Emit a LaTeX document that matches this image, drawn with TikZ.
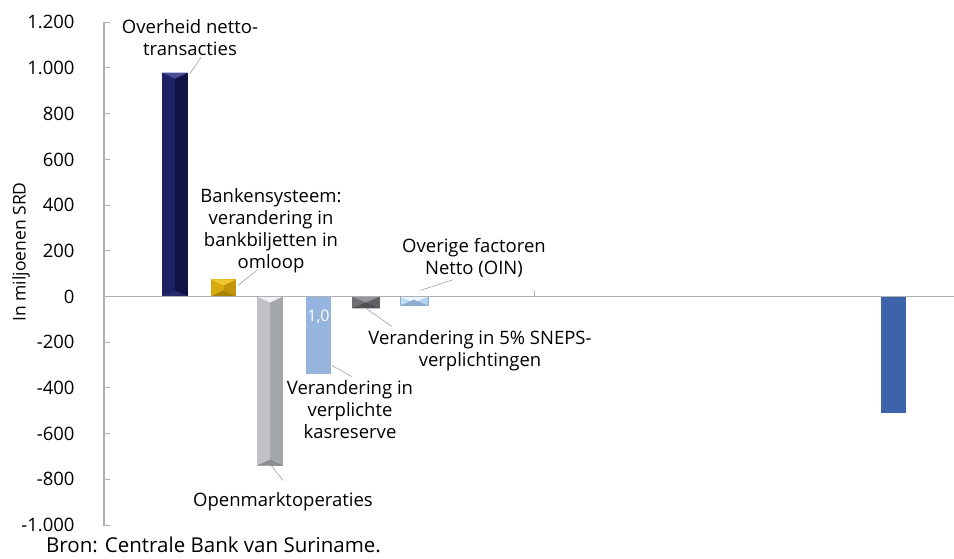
\documentclass[tikz,border=0pt]{standalone}
\usepackage{fontspec}
\setmainfont{Open Sans}
\usetikzlibrary{calc}

\definecolor{axisgray}{RGB}{172,175,180}
\definecolor{leadgray}{RGB}{160,160,160}
\definecolor{navyL}{RGB}{30,32,100}
\definecolor{navyR}{RGB}{16,18,70}
\definecolor{navyT}{RGB}{75,78,150}
\definecolor{navyB}{RGB}{40,42,105}
\definecolor{goldL}{RGB}{215,170,15}
\definecolor{goldR}{RGB}{195,150,10}
\definecolor{goldT}{RGB}{240,200,50}
\definecolor{goldB}{RGB}{170,130,5}
\definecolor{silvL}{RGB}{192,193,196}
\definecolor{silvR}{RGB}{165,166,170}
\definecolor{silvT}{RGB}{242,242,244}
\definecolor{silvB}{RGB}{140,141,145}
\definecolor{kasblue}{RGB}{149,181,222}
\definecolor{dgrayL}{RGB}{110,111,115}
\definecolor{dgrayR}{RGB}{96,97,101}
\definecolor{dgrayT}{RGB}{150,151,155}
\definecolor{dgrayB}{RGB}{80,81,85}
\definecolor{paleL}{RGB}{195,222,242}
\definecolor{paleR}{RGB}{180,210,235}
\definecolor{paleT}{RGB}{235,245,252}
\definecolor{paleB}{RGB}{140,172,205}
\definecolor{oinblue}{RGB}{61,100,170}

% #1 name, #2 left x, #3 right x, #4 value, #5..#8 left/right/top/bottom colour
\newcommand{\bevelbar}[8]{%
  \pgfmathsetmacro\yA{min(296.5,296.5-0.2285*#4)}
  \pgfmathsetmacro\yB{max(296.5,296.5-0.2285*#4)}
  \pgfmathsetmacro\xM{(#2+#3)/2}
  \fill[#5] (#2,\yA) rectangle (\xM,\yB);
  \fill[#6] (\xM,\yA) rectangle (#3,\yB);
  \fill[#7] (#2,\yA) -- (#3,\yA) -- (\xM,\yA+6) -- cycle;
  \fill[#8] (#2,\yB) -- (#3,\yB) -- (\xM,\yB-6) -- cycle;
  \coordinate (#1-tl) at (#2,\yA);
  \coordinate (#1-tr) at (#3,\yA);
  \coordinate (#1-bl) at (#2,\yB);
  \coordinate (#1-br) at (#3,\yB);
}

\begin{document}
\begin{tikzpicture}[x=1pt, y=-1pt,
  lbl/.style={align=center, font=\fontsize{18.5}{22}\selectfont, inner sep=0pt},
  leader/.style={draw=leadgray, line width=0.6pt}]
\useasboundingbox (0,0) rectangle (954,559);

\draw[axisgray, line width=1.2pt] (104,22) -- (104,525.5);
\foreach \v/\t in {1200/1.200, 1000/1.000, 800/800, 600/600, 400/400, 200/200, 0/0, -200/-200, -400/-400, -600/-600, -800/-800, -1000/-1.000}
  \draw[axisgray, line width=1pt] (104,{296.5-0.2285*\v}) --++(6,0) node[pos=0, anchor=east, xshift=-29, text=black, inner sep=0pt, font=\fontsize{18.5}{20}\selectfont] {\t};
\node[rotate=90, font=\fontsize{17.5}{18}\selectfont] (ytitle) at (21,252) {In miljoenen SRD};

\bevelbar{navy}{162}{188}{980}{navyL}{navyR}{navyT}{navyB}
\bevelbar{gold}{211}{236}{75}{goldL}{goldR}{goldT}{goldB}
\bevelbar{silv}{257}{283}{-740}{silvL}{silvR}{silvT}{silvB}
\bevelbar{dgray}{352}{380}{-52}{dgrayL}{dgrayR}{dgrayT}{dgrayB}
\bevelbar{pale}{400}{428}{-40}{paleL}{paleR}{paleT}{paleB}
\draw[paleB, line width=0.8pt] (pale-tl) rectangle (pale-br);
\fill[kasblue] (306,296.5) rectangle (331,373.5);
\coordinate (kas-br) at (331,373.5);
\node[text=white, font=\fontsize{16}{16}\selectfont] (kasval) at (318.5,317) {1,0};
\fill[oinblue] (881,296.5) rectangle (906,412.5);

\draw[axisgray, line width=1.2pt] (104,296.5) -- (954,296.5);
\draw[axisgray, line width=0.8pt] (534.5,296.5) -- (534.5,290.5);

\node[lbl] (ov) at (190,38) {Overheid netto-\\transacties};
\node[lbl] (bk) at (271,231) {Bankensysteem:\\verandering in\\bankbiljetten in\\omloop};
\node[lbl] (oin) at (474,258) {Overige factoren\\Netto (OIN)};
\node[lbl] (sneps) at (480,351) {Verandering in 5\% SNEPS-\\verplichtingen};
\node[lbl] (kas) at (350,410) {Verandering in\\verplichte\\kasreserve};
\node[lbl] (open) at (283,502) {Openmarktoperaties};

\draw[leader] ($(navy-tr)+(2,1)$) -- ($(ov.south)+(11,1)$);
\draw[leader] ($(gold-tr)+(2,6)$) -- ($(bk.south)+(-13,-4)$);
\draw[leader] ($(pale-tr)+(-8,-6)$) -- ($(oin.south)+(-21,2)$);
\draw[leader] ($(dgray-bl)!0.5!(dgray-br)$) -- ($(sneps.north)+(-88,-4)$);
\draw[leader] ($(kas-br)+(1,-8)$) -- ($(kas.north)+(2,-4)$);
\draw[leader] ($(silv-bl)!0.55!(silv-br)$) -- ($(open.north)+(0,-12)$);

\node[anchor=west, inner sep=0pt, font=\fontsize{20.5}{24}\selectfont] (bron) at (46,545) {Bron: Centrale Bank van Suriname.};
\end{tikzpicture}
\end{document}
